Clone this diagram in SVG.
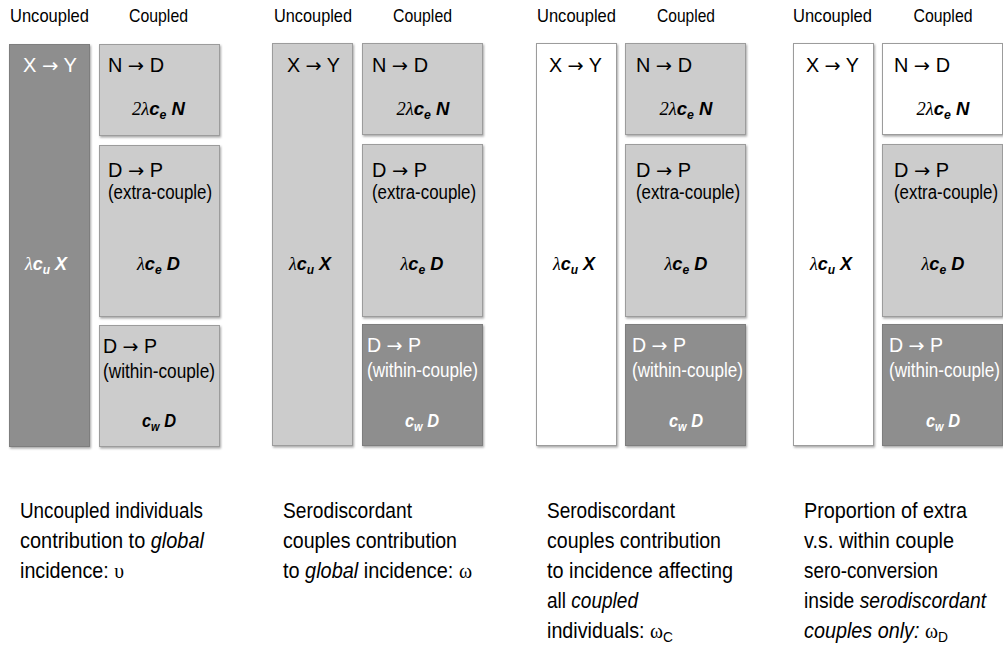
<svg xmlns="http://www.w3.org/2000/svg" width="1003" height="647" viewBox="0 0 1003 647">
<defs>
<filter id="sh" x="-10%" y="-10%" width="130%" height="130%">
<feDropShadow dx="1" dy="1.5" stdDeviation="0.8" flood-color="#000" flood-opacity="0.35"/>
</filter>
<style>
text{font-family:"Liberation Sans Narrow","Liberation Sans",Arial,sans-serif;fill:#000}
.hdr{font-size:19px;text-anchor:middle}
.lbl{font-size:19.5px}
.cap{font-size:21.5px}
.m{font-size:18px;font-style:italic;font-weight:bold;text-anchor:middle}
.g{font-family:"Liberation Serif",serif;font-style:italic;font-weight:normal}
.ar{font-family:"DejaVu Sans",sans-serif;font-size:19px}
.sub{font-size:12px}
.csub{font-size:15px}
.it{font-style:italic}
.w{fill:#fff}
.lt{fill:#cccccc;stroke:#9c9c9c;stroke-width:1;filter:url(#sh)}
.dk{fill:#8e8e8e;stroke:#7e7e7e;stroke-width:1;filter:url(#sh)}
.wh{fill:#ffffff;stroke:#9c9c9c;stroke-width:1;filter:url(#sh)}
</style>
</defs>
<rect width="1003" height="647" fill="#fff"/>
<g id="connectors"/>

<!-- Panel 1 -->
<g id="p1-headers">
<text class="hdr" x="49.5" y="22" textLength="79" lengthAdjust="spacingAndGlyphs">Uncoupled</text>
<text class="hdr" x="158.5" y="22" textLength="59" lengthAdjust="spacingAndGlyphs">Coupled</text>
</g>
<g id="p1-uncoupled">
<rect class="dk" x="9.5" y="44.5" width="80" height="402"/>
<text class="lbl w" x="23" y="72" textLength="54" lengthAdjust="spacingAndGlyphs">X <tspan class="ar w">→</tspan> Y</text>
<text class="m w" x="46" y="270" textLength="42" lengthAdjust="spacingAndGlyphs"><tspan class="g w">λ</tspan>c<tspan class="sub w" dy="4">u</tspan><tspan dy="-4"> X</tspan></text>
</g>
<g id="p1-nd">
<rect class="lt" x="99.5" y="44.5" width="120" height="91"/>
<text class="lbl" x="108" y="72" textLength="56" lengthAdjust="spacingAndGlyphs">N <tspan class="ar">→</tspan> D</text>
<text class="m" x="158.5" y="115" textLength="53" lengthAdjust="spacingAndGlyphs"><tspan class="g">2λ</tspan>c<tspan class="sub" dy="4">e</tspan><tspan dy="-4"> N</tspan></text>
</g>
<g id="p1-dp-extra">
<rect class="lt" x="99.5" y="145.5" width="120" height="171"/>
<text class="lbl" x="108" y="177" textLength="55" lengthAdjust="spacingAndGlyphs">D <tspan class="ar">→</tspan> P</text>
<text class="lbl" x="108" y="199" textLength="104" lengthAdjust="spacingAndGlyphs">(extra-couple)</text>
<text class="m" x="158.5" y="270" textLength="43" lengthAdjust="spacingAndGlyphs"><tspan class="g">λ</tspan>c<tspan class="sub" dy="4">e</tspan><tspan dy="-4"> D</tspan></text>
</g>
<g id="p1-dp-within">
<rect class="lt" x="99.5" y="325.5" width="120" height="121"/>
<text class="lbl" x="103" y="353" textLength="54" lengthAdjust="spacingAndGlyphs">D <tspan class="ar">→</tspan> P</text>
<text class="lbl" x="103" y="378" textLength="112" lengthAdjust="spacingAndGlyphs">(within-couple)</text>
<text class="m" x="159" y="427" textLength="34" lengthAdjust="spacingAndGlyphs">c<tspan class="sub" dy="4">w</tspan><tspan dy="-4"> D</tspan></text>
</g>
<g id="p1-caption">
<text class="cap" x="20" y="518" textLength="183" lengthAdjust="spacingAndGlyphs">Uncoupled individuals</text>
<text class="cap" x="20" y="548" textLength="184" lengthAdjust="spacingAndGlyphs">contribution to <tspan class="it">global</tspan></text>
<text class="cap" x="20" y="578" textLength="104" lengthAdjust="spacingAndGlyphs">incidence: <tspan class="g" style="font-style:normal">υ</tspan></text>
</g>

<!-- Panel 2 -->
<g id="p2-headers">
<text class="hdr" x="313" y="22" textLength="78" lengthAdjust="spacingAndGlyphs">Uncoupled</text>
<text class="hdr" x="422.5" y="22" textLength="59" lengthAdjust="spacingAndGlyphs">Coupled</text>
</g>
<g id="p2-uncoupled">
<rect class="lt" x="272.5" y="43.5" width="80" height="402"/>
<text class="lbl" x="287" y="72" textLength="53" lengthAdjust="spacingAndGlyphs">X <tspan class="ar">→</tspan> Y</text>
<text class="m" x="310" y="270" textLength="42" lengthAdjust="spacingAndGlyphs"><tspan class="g">λ</tspan>c<tspan class="sub" dy="4">u</tspan><tspan dy="-4"> X</tspan></text>
</g>
<g id="p2-nd">
<rect class="lt" x="362.5" y="43.5" width="120" height="91"/>
<text class="lbl" x="372" y="72" textLength="56" lengthAdjust="spacingAndGlyphs">N <tspan class="ar">→</tspan> D</text>
<text class="m" x="423" y="115" textLength="53" lengthAdjust="spacingAndGlyphs"><tspan class="g">2λ</tspan>c<tspan class="sub" dy="4">e</tspan><tspan dy="-4"> N</tspan></text>
</g>
<g id="p2-dp-extra">
<rect class="lt" x="362.5" y="144.5" width="120" height="172"/>
<text class="lbl" x="372" y="177" textLength="55" lengthAdjust="spacingAndGlyphs">D <tspan class="ar">→</tspan> P</text>
<text class="lbl" x="372" y="199" textLength="104" lengthAdjust="spacingAndGlyphs">(extra-couple)</text>
<text class="m" x="422" y="270" textLength="43" lengthAdjust="spacingAndGlyphs"><tspan class="g">λ</tspan>c<tspan class="sub" dy="4">e</tspan><tspan dy="-4"> D</tspan></text>
</g>
<g id="p2-dp-within">
<rect class="dk" x="362.5" y="324.5" width="120" height="121"/>
<text class="lbl w" x="367" y="352" textLength="54" lengthAdjust="spacingAndGlyphs">D <tspan class="ar w">→</tspan> P</text>
<text class="lbl w" x="367" y="377" textLength="111" lengthAdjust="spacingAndGlyphs">(within-couple)</text>
<text class="m w" x="422" y="427" textLength="34" lengthAdjust="spacingAndGlyphs">c<tspan class="sub w" dy="4">w</tspan><tspan dy="-4"> D</tspan></text>
</g>
<g id="p2-caption">
<text class="cap" x="283" y="518" textLength="129" lengthAdjust="spacingAndGlyphs">Serodiscordant</text>
<text class="cap" x="283" y="548" textLength="174" lengthAdjust="spacingAndGlyphs">couples contribution</text>
<text class="cap" x="283" y="578" textLength="189" lengthAdjust="spacingAndGlyphs">to <tspan class="it">global</tspan> incidence: <tspan class="g" style="font-style:normal">ω</tspan></text>
</g>

<!-- Panel 3 -->
<g id="p3-headers">
<text class="hdr" x="576.5" y="22" textLength="79" lengthAdjust="spacingAndGlyphs">Uncoupled</text>
<text class="hdr" x="686" y="22" textLength="58" lengthAdjust="spacingAndGlyphs">Coupled</text>
</g>
<g id="p3-uncoupled">
<rect class="wh" x="536.5" y="43.5" width="80" height="402"/>
<text class="lbl" x="549" y="72" textLength="53" lengthAdjust="spacingAndGlyphs">X <tspan class="ar">→</tspan> Y</text>
<text class="m" x="574" y="270" textLength="42" lengthAdjust="spacingAndGlyphs"><tspan class="g">λ</tspan>c<tspan class="sub" dy="4">u</tspan><tspan dy="-4"> X</tspan></text>
</g>
<g id="p3-nd">
<rect class="lt" x="625.5" y="43.5" width="120" height="91"/>
<text class="lbl" x="636" y="72" textLength="56" lengthAdjust="spacingAndGlyphs">N <tspan class="ar">→</tspan> D</text>
<text class="m" x="686" y="115" textLength="53" lengthAdjust="spacingAndGlyphs"><tspan class="g">2λ</tspan>c<tspan class="sub" dy="4">e</tspan><tspan dy="-4"> N</tspan></text>
</g>
<g id="p3-dp-extra">
<rect class="lt" x="625.5" y="144.5" width="120" height="172"/>
<text class="lbl" x="636" y="177" textLength="55" lengthAdjust="spacingAndGlyphs">D <tspan class="ar">→</tspan> P</text>
<text class="lbl" x="636" y="199" textLength="104" lengthAdjust="spacingAndGlyphs">(extra-couple)</text>
<text class="m" x="686" y="270" textLength="43" lengthAdjust="spacingAndGlyphs"><tspan class="g">λ</tspan>c<tspan class="sub" dy="4">e</tspan><tspan dy="-4"> D</tspan></text>
</g>
<g id="p3-dp-within">
<rect class="dk" x="625.5" y="324.5" width="120" height="121"/>
<text class="lbl w" x="632" y="352" textLength="54" lengthAdjust="spacingAndGlyphs">D <tspan class="ar w">→</tspan> P</text>
<text class="lbl w" x="632" y="377" textLength="111" lengthAdjust="spacingAndGlyphs">(within-couple)</text>
<text class="m w" x="686" y="427" textLength="34" lengthAdjust="spacingAndGlyphs">c<tspan class="sub w" dy="4">w</tspan><tspan dy="-4"> D</tspan></text>
</g>
<g id="p3-caption">
<text class="cap" x="547" y="518" textLength="128" lengthAdjust="spacingAndGlyphs">Serodiscordant</text>
<text class="cap" x="547" y="548" textLength="174" lengthAdjust="spacingAndGlyphs">couples contribution</text>
<text class="cap" x="547" y="578" textLength="186" lengthAdjust="spacingAndGlyphs">to incidence affecting</text>
<text class="cap" x="547" y="608" textLength="91" lengthAdjust="spacingAndGlyphs">all <tspan class="it">coupled</tspan></text>
<text class="cap" x="547" y="638" textLength="126" lengthAdjust="spacingAndGlyphs">individuals: <tspan class="g" style="font-style:normal">ω</tspan><tspan class="csub" dy="4">C</tspan></text>
</g>

<!-- Panel 4 -->
<g id="p4-headers">
<text class="hdr" x="832.5" y="22" textLength="79" lengthAdjust="spacingAndGlyphs">Uncoupled</text>
<text class="hdr" x="943" y="22" textLength="59" lengthAdjust="spacingAndGlyphs">Coupled</text>
</g>
<g id="p4-uncoupled">
<rect class="wh" x="793.5" y="43.5" width="80" height="402"/>
<text class="lbl" x="806" y="72" textLength="53" lengthAdjust="spacingAndGlyphs">X <tspan class="ar">→</tspan> Y</text>
<text class="m" x="831" y="270" textLength="42" lengthAdjust="spacingAndGlyphs"><tspan class="g">λ</tspan>c<tspan class="sub" dy="4">u</tspan><tspan dy="-4"> X</tspan></text>
</g>
<g id="p4-nd">
<rect class="wh" x="882.5" y="43.5" width="120" height="91"/>
<text class="lbl" x="894" y="72" textLength="56" lengthAdjust="spacingAndGlyphs">N <tspan class="ar">→</tspan> D</text>
<text class="m" x="943" y="115" textLength="53" lengthAdjust="spacingAndGlyphs"><tspan class="g">2λ</tspan>c<tspan class="sub" dy="4">e</tspan><tspan dy="-4"> N</tspan></text>
</g>
<g id="p4-dp-extra">
<rect class="lt" x="882.5" y="144.5" width="120" height="172"/>
<text class="lbl" x="894" y="177" textLength="55" lengthAdjust="spacingAndGlyphs">D <tspan class="ar">→</tspan> P</text>
<text class="lbl" x="894" y="199" textLength="104" lengthAdjust="spacingAndGlyphs">(extra-couple)</text>
<text class="m" x="943" y="270" textLength="43" lengthAdjust="spacingAndGlyphs"><tspan class="g">λ</tspan>c<tspan class="sub" dy="4">e</tspan><tspan dy="-4"> D</tspan></text>
</g>
<g id="p4-dp-within">
<rect class="dk" x="882.5" y="324.5" width="120" height="121"/>
<text class="lbl w" x="889" y="352" textLength="54" lengthAdjust="spacingAndGlyphs">D <tspan class="ar w">→</tspan> P</text>
<text class="lbl w" x="889" y="377" textLength="111" lengthAdjust="spacingAndGlyphs">(within-couple)</text>
<text class="m w" x="943" y="427" textLength="34" lengthAdjust="spacingAndGlyphs">c<tspan class="sub w" dy="4">w</tspan><tspan dy="-4"> D</tspan></text>
</g>
<g id="p4-caption">
<text class="cap" x="804" y="518" textLength="163" lengthAdjust="spacingAndGlyphs">Proportion of extra</text>
<text class="cap" x="804" y="548" textLength="150" lengthAdjust="spacingAndGlyphs">v.s. within couple</text>
<text class="cap" x="804" y="578" textLength="134" lengthAdjust="spacingAndGlyphs">sero-conversion</text>
<text class="cap" x="804" y="608" textLength="182" lengthAdjust="spacingAndGlyphs">inside <tspan class="it">serodiscordant</tspan></text>
<text class="cap" x="804" y="638" textLength="144" lengthAdjust="spacingAndGlyphs"><tspan class="it">couples only:</tspan> <tspan class="g" style="font-style:normal">ω</tspan><tspan class="csub" dy="4">D</tspan></text>
</g>
</svg>
